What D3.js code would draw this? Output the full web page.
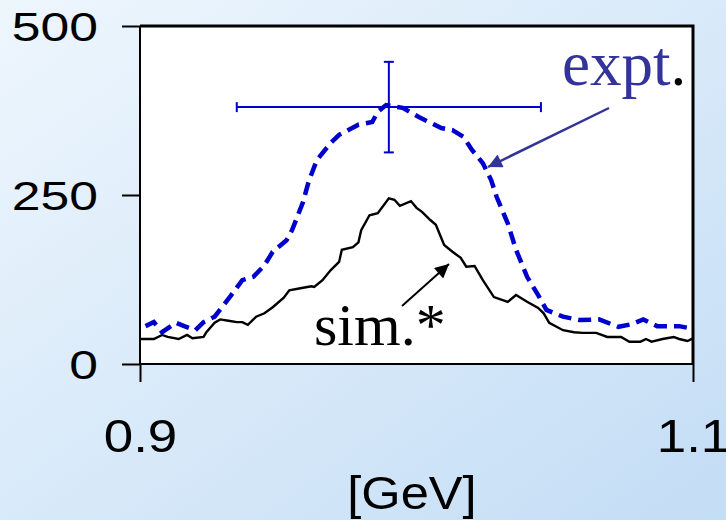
<!DOCTYPE html>
<html>
<head>
<meta charset="utf-8">
<script src="https://cdn.jsdelivr.net/npm/d3@7"></script>
<style>
  body { margin: 0; padding: 0; }
  svg { display: block; }
</style>
</head>
<body>
<div id="chart"></div>
<script>
// data (mass in GeV, counts)
var exptMass = [0.902, 0.905, 0.908, 0.913, 0.916, 0.920, 0.923, 0.927, 0.933, 0.937, 0.941, 0.945,
    0.948, 0.953, 0.955, 0.959, 0.961, 0.964, 0.969, 0.972, 0.979, 0.984, 0.986, 0.989,
    0.995, 1.001, 1.009, 1.013, 1.017, 1.020, 1.024, 1.027, 1.029, 1.033, 1.036, 1.040,
    1.044, 1.047, 1.053, 1.059, 1.066, 1.073, 1.078, 1.082, 1.087, 1.095, 1.100];
var exptCounts = [56, 62, 47, 61, 56, 50, 62, 70, 102, 124, 129, 146,
    166, 183, 198, 240, 270, 302, 327, 339, 354, 358, 373, 383,
    379, 365, 349, 346, 336, 317, 297, 272, 247, 208, 169, 129,
    102, 80, 70, 65, 66, 55, 59, 66, 56, 56, 52];

var simMass = [0.900, 0.905, 0.908, 0.910, 0.914, 0.917, 0.919, 0.923, 0.924, 0.927, 0.929, 0.932,
    0.935, 0.937, 0.939, 0.942, 0.945, 0.948, 0.952, 0.954, 0.958, 0.962, 0.963, 0.966,
    0.969, 0.972, 0.973, 0.977, 0.979, 0.980, 0.983, 0.986, 0.990, 0.992, 0.994, 0.998,
    1.000, 1.002, 1.005, 1.007, 1.010, 1.013, 1.016, 1.018, 1.021, 1.024, 1.028, 1.033,
    1.036, 1.040, 1.044, 1.046, 1.048, 1.053, 1.057, 1.060, 1.065, 1.069, 1.074, 1.077,
    1.081, 1.083, 1.085, 1.089, 1.093, 1.095, 1.098, 1.100];
var simCounts = [37, 37, 43, 40, 37, 43, 38, 40, 47, 61, 66, 64,
    62, 62, 58, 70, 75, 84, 98, 109, 112, 115, 114, 124,
    139, 151, 169, 173, 180, 198, 220, 223, 245, 243, 234, 241,
    231, 225, 213, 206, 176, 166, 157, 144, 145, 124, 99, 92,
    102, 92, 83, 75, 61, 50, 47, 46, 46, 40, 40, 33,
    33, 37, 33, 37, 40, 37, 34, 38];

// error bar on the expt. peak
var errPoint = {mass: 0.990, counts: 380, dMass: 0.055, dCounts: 67};

var yTicks = [0, 250, 500];
var xTicks = [0.9, 1.1];
var xLabel = '[GeV]';

var W = 726, H = 520;
var margin = {top: 26, right: 33, bottom: 156, left: 140};
var width = W - margin.left - margin.right;
var height = H - margin.top - margin.bottom;

var svg = d3.select('#chart').append('svg')
    .attr('width', W)
    .attr('height', H);

// background gradient
var defs = svg.append('defs');
var grad = defs.append('linearGradient')
    .attr('id', 'bg')
    .attr('x1', '0%').attr('y1', '0%')
    .attr('x2', '100%').attr('y2', '100%');
grad.append('stop').attr('offset', '0%').attr('stop-color', '#eef6fd');
grad.append('stop').attr('offset', '100%').attr('stop-color', '#c3ddf5');

var arrowBlue = defs.append('marker')
    .attr('id', 'headBlue')
    .attr('viewBox', '0 0 10 10')
    .attr('refX', 10).attr('refY', 5)
    .attr('markerUnits', 'userSpaceOnUse')
    .attr('markerWidth', 18).attr('markerHeight', 14)
    .attr('orient', 'auto');
arrowBlue.append('path').attr('d', 'M0,0L10,5L0,10Z').attr('fill', '#333399');

var arrowBlack = defs.append('marker')
    .attr('id', 'headBlack')
    .attr('viewBox', '0 0 10 10')
    .attr('refX', 10).attr('refY', 5)
    .attr('markerUnits', 'userSpaceOnUse')
    .attr('markerWidth', 17).attr('markerHeight', 14)
    .attr('orient', 'auto');
arrowBlack.append('path').attr('d', 'M0,0L10,5L0,10Z').attr('fill', '#000');

svg.append('rect')
    .attr('width', W).attr('height', H)
    .attr('fill', 'url(#bg)');

var g = svg.append('g')
    .attr('transform', 'translate(' + margin.left + ',' + margin.top + ')');

// scales
var xScale = d3.scaleLinear()
    .domain([0.9, 1.1])
    .range([0, width]);
var yScale = d3.scaleLinear()
    .domain([0, 500])
    .range([height, 0]);

// plot area
g.append('rect')
    .attr('width', width).attr('height', height)
    .attr('fill', '#fff');

// frame top & right
g.append('path')
    .attr('d', 'M0,0H' + width + 'V' + height)
    .attr('fill', 'none')
    .attr('stroke', '#000')
    .attr('stroke-width', 3);

// the curves
var line = d3.line()
    .x(function(d){ return xScale(d[0]); })
    .y(function(d){ return yScale(d[1]); });

var simData = simMass.map(function(m, i){ return [m, simCounts[i]]; });
var exptData = exptMass.map(function(m, i){ return [m, exptCounts[i]]; });

g.append('path')
    .datum(simData)
    .attr('d', line)
    .attr('fill', 'none')
    .attr('stroke', '#000')
    .attr('stroke-width', 2.4);

g.append('path')
    .datum(exptData)
    .attr('d', line)
    .attr('fill', 'none')
    .attr('stroke', '#0000cc')
    .attr('stroke-width', 4.5)
    .attr('stroke-dasharray', '13,7');

// error bar
var ex = xScale(errPoint.mass), ey = yScale(errPoint.counts);
var xl = xScale(errPoint.mass - errPoint.dMass), xr = xScale(errPoint.mass + errPoint.dMass);
var yt = yScale(errPoint.counts + errPoint.dCounts), yb = yScale(errPoint.counts - errPoint.dCounts);
var eb = g.append('g')
    .attr('stroke', '#0000cc')
    .attr('stroke-width', 2);
eb.append('line').attr('x1', xl).attr('x2', xr).attr('y1', ey).attr('y2', ey);
eb.append('line').attr('x1', ex).attr('x2', ex).attr('y1', yt).attr('y2', yb);
eb.append('line').attr('x1', xl).attr('x2', xl).attr('y1', ey - 5).attr('y2', ey + 5);
eb.append('line').attr('x1', xr).attr('x2', xr).attr('y1', ey - 5).attr('y2', ey + 5);
eb.append('line').attr('x1', ex - 5).attr('x2', ex + 5).attr('y1', yt).attr('y2', yt);
eb.append('line').attr('x1', ex - 5).attr('x2', ex + 5).attr('y1', yb).attr('y2', yb);

// axes
var yAxis = d3.axisLeft(yScale)
    .tickValues(yTicks)
    .tickSize(18)
    .tickPadding(24)
    .tickFormat(d3.format('d'));
var xAxis = d3.axisBottom(xScale)
    .tickValues(xTicks)
    .tickSize(18)
    .tickPadding(37)
    .tickFormat(d3.format('.1f'));

var yG = g.append('g').call(yAxis);
var xG = g.append('g')
    .attr('transform', 'translate(0,' + height + ')')
    .call(xAxis);

[yG, xG].forEach(function(ax){
    ax.select('.domain').attr('stroke', '#000').attr('stroke-width', 2);
    ax.selectAll('.tick line').attr('stroke', '#000').attr('stroke-width', 2);
    ax.selectAll('.tick text')
        .attr('fill', '#000')
        .style('font-family', '"Liberation Sans", Arial, sans-serif');
});
// y domain without outer ticks on the right
yG.select('.domain').attr('d', 'M0,0V' + height);
xG.select('.domain').attr('d', 'M0,0H' + width);

yG.selectAll('.tick text').style('font-size', '41px').attr('dy', '0.36em');
xG.selectAll('.tick text').style('font-size', '46px');

// stretch labels horizontally like the original
function stretch(sel, f){
    sel.each(function(){
        var w = this.getComputedTextLength();
        d3.select(this).attr('textLength', w * f).attr('lengthAdjust', 'spacingAndGlyphs');
    });
}
stretch(yG.selectAll('.tick text'), 1.26);
stretch(xG.selectAll('.tick text'), 1.15);

var gev = svg.append('text')
    .attr('x', 412).attr('y', 509)
    .attr('text-anchor', 'middle')
    .style('font-family', '"Liberation Sans", Arial, sans-serif')
    .style('font-size', '46px')
    .text(xLabel);
stretch(gev, 1.1);

// annotations
var expt = svg.append('text')
    .attr('x', 562).attr('y', 85)
    .style('font-family', '"Liberation Serif", "Times New Roman", serif')
    .style('font-size', '63px');
expt.append('tspan').attr('fill', '#333399').text('expt');
expt.append('tspan').attr('fill', '#000').text('.');

svg.append('text')
    .attr('x', 314).attr('y', 345)
    .style('font-family', '"Liberation Serif", "Times New Roman", serif')
    .style('font-size', '60px')
    .attr('fill', '#000')
    .text('sim.*');

svg.append('line')
    .attr('x1', 609).attr('y1', 108)
    .attr('x2', 488).attr('y2', 167)
    .attr('stroke', '#333399')
    .attr('stroke-width', 2.5)
    .attr('marker-end', 'url(#headBlue)');

svg.append('line')
    .attr('x1', 402).attr('y1', 306)
    .attr('x2', 449).attr('y2', 264)
    .attr('stroke', '#000')
    .attr('stroke-width', 2)
    .attr('marker-end', 'url(#headBlack)');
</script>
</body>
</html>
